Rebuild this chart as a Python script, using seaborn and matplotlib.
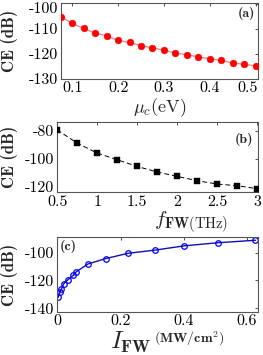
import numpy as np
import pandas as pd
import matplotlib
matplotlib.use("Agg")
import matplotlib.pyplot as plt
from matplotlib.transforms import ScaledTranslation
import seaborn as sns

# (a) CE vs chemical potential
mu_c = [0.075, 0.1, 0.125, 0.15, 0.175, 0.2, 0.225, 0.25, 0.275,
        0.3, 0.325, 0.35, 0.375, 0.4, 0.425, 0.45, 0.475, 0.5]
ce_mu = [-105.1, -107.8, -109.8, -111.6, -112.8, -114.6, -115.4, -116.7, -117.5,
         -118.6, -119.6, -120.3, -121.2, -121.9, -122.6, -123.6, -124.1, -124.9]

# (b) CE vs FW frequency
f_fw = [0.5, 0.75, 1.0, 1.25, 1.5, 1.75, 2.0, 2.25, 2.5, 2.75, 3.0]
ce_f = [-79.3, -88.8, -95.9, -100.7, -105.5, -109.5, -112.6, -115.7, -118.1, -119.3, -121.4]

# (c) CE vs FW intensity
i_fw = [0.0025, 0.008, 0.013, 0.0205, 0.034, 0.05, 0.06, 0.097, 0.153,
        0.224, 0.309, 0.402, 0.507, 0.627]
ce_i = [-132.2, -128.6, -126.1, -122.3, -119.4, -116.4, -113.7, -108.1, -104.2,
        -100.4, -98.1, -95.0, -92.8, -91.0]

xt_a = [0.1, 0.2, 0.3, 0.4, 0.5]
xt_a_lab = ["0.1", "0.2", "0.3", "0.4", "0.5"]
yt_a = [-100, -110, -120, -130]
xt_b = [0.5, 1, 1.5, 2, 2.5, 3]
xt_b_lab = ["0.5", "1", "1.5", "2", "2.5", "3"]
yt_b = [-80, -100, -120]
xt_c = [0, 0.2, 0.4, 0.6]
xt_c_lab = ["0", "0.2", "0.4", "0.6"]
yt_c = [-100, -120, -140]

sns.set_theme(style="white")
plt.rcParams["font.family"] = ["cmr10", "DejaVu Serif"]
plt.rcParams["mathtext.fontset"] = "cm"
plt.rcParams["axes.unicode_minus"] = False
plt.rcParams["axes.formatter.use_mathtext"] = True

fig = plt.figure(figsize=(2.63, 3.55), dpi=100)
ax_a = fig.add_axes([0.231, 0.7775, 0.750, 0.215])
ax_b = fig.add_axes([0.217, 0.4583, 0.764, 0.197])
ax_c = fig.add_axes([0.218, 0.122, 0.763, 0.209])

# panel a
sns.lineplot(x=mu_c, y=ce_mu, ax=ax_a, color="#f08a8a", linewidth=1.0)
sns.scatterplot(x=mu_c, y=ce_mu, ax=ax_a, color="red", s=24, edgecolor="red", linewidth=0.3, zorder=3)
ax_a.set_xlim(0.075, 0.505)
ax_a.set_ylim(-130, -99.5)

# panel b
sns.lineplot(x=f_fw, y=ce_f, ax=ax_b, color="black", linewidth=0.7, linestyle=(0, (5, 3)))
sns.scatterplot(x=f_fw, y=ce_f, ax=ax_b, color="black", marker="s", s=22, edgecolor="black", linewidth=0.3, zorder=3)
ax_b.set_xlim(0.5, 3.01)
ax_b.set_ylim(-124, -74)

# panel c
sns.lineplot(x=i_fw, y=ce_i, ax=ax_c, color="#1010b0", linewidth=1.0, marker="o",
             markersize=4, markerfacecolor="none", markeredgecolor="blue", markeredgewidth=0.9)
ax_c.set_xlim(0, 0.635)
ax_c.set_ylim(-142.5, -89)

for ax, xt, xl, yt in [(ax_a, xt_a, xt_a_lab, yt_a), (ax_b, xt_b, xt_b_lab, yt_b), (ax_c, xt_c, xt_c_lab, yt_c)]:
    ax.set_xticks(xt)
    ax.set_xticklabels(xl)
    ax.set_yticks(yt)
    ax.set_yticklabels([str(v) for v in yt])
    ax.tick_params(direction="in", length=2.5, width=0.6, top=True, right=True,
                   labelsize=11.5, pad=2, colors="#333333", labelcolor="black")
    for sp in ax.spines.values():
        sp.set_linewidth(0.8)
        sp.set_color("#555555")
    ax.set_ylabel("CE (dB)", family="cmb10", fontsize=12)

# keep edge labels of (a) inside the picture, as in the reference
last = ax_a.get_xticklabels()[-1]
last.set_transform(last.get_transform() + ScaledTranslation(-6 / 72, 0, fig.dpi_scale_trans))
top = ax_a.get_yticklabels()[0]
top.set_transform(top.get_transform() + ScaledTranslation(0, -3 / 72, fig.dpi_scale_trans))

ax_a.yaxis.set_label_coords(-0.215, 0.5)
ax_b.yaxis.set_label_coords(-0.193, 0.5)
ax_c.yaxis.set_label_coords(-0.194, 0.5)

ax_a.set_xlabel(r"$\mu_c$(eV)", fontsize=13, va="top")
ax_a.xaxis.set_label_coords(0.503, -0.225)
ax_b.set_xlabel(r"$f_{\mathbf{FW}\mathrm{(THz)}}$", fontsize=15, va="top")
ax_b.xaxis.set_label_coords(0.669, -0.255)
ax_c.set_xlabel("")
ax_c.text(0.263, -0.24, r"$I_{\mathbf{FW}}$", transform=ax_c.transAxes, fontsize=18, ha="left", va="top")
ax_c.text(0.48, -0.36, r"$\mathbf{(MW/cm^2)}$", transform=ax_c.transAxes, fontsize=10, ha="left", va="center")

ax_a.text(0.985, 0.852, "(a)", transform=ax_a.transAxes, family="cmb10", fontsize=10, ha="right", va="center")
ax_b.text(0.975, 0.761, "(b)", transform=ax_b.transAxes, family="cmb10", fontsize=10, ha="right", va="center")
ax_c.text(0.013, 0.876, "(c)", transform=ax_c.transAxes, family="cmb10", fontsize=10, ha="left", va="center")

fig.savefig("out.png", dpi=100)
